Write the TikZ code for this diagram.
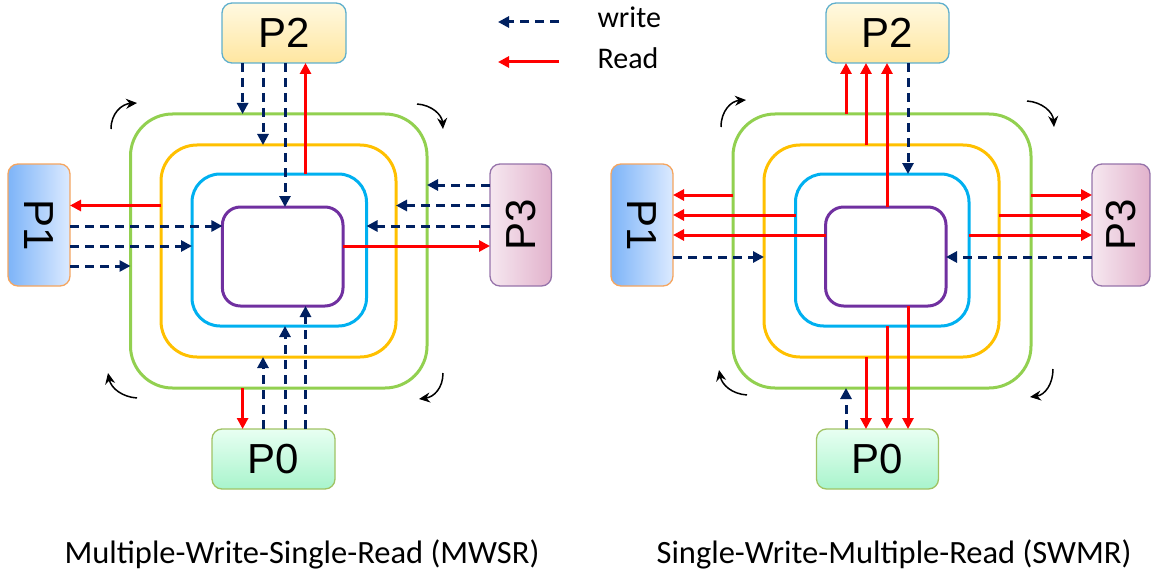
\documentclass[tikz,border=0pt]{standalone}
\usepackage{fontspec}
\setmainfont{Carlito}
\newfontfamily\arialf{Liberation Sans}
\usetikzlibrary{arrows.meta}
\definecolor{ringG}{HTML}{92D050}
\definecolor{ringY}{HTML}{FFC000}
\definecolor{ringB}{HTML}{00B0F0}
\definecolor{ringP}{HTML}{7030A0}
\definecolor{wnavy}{HTML}{002060}
\definecolor{rred}{HTML}{FF0000}
\definecolor{p2top}{RGB}{255,249,225}
\definecolor{p2bot}{RGB}{255,230,160}
\definecolor{p2bd}{RGB}{95,175,205}
\definecolor{p1l}{RGB}{125,180,248}
\definecolor{p1r}{RGB}{220,234,255}
\definecolor{p1bd}{RGB}{245,165,95}
\definecolor{p3l}{RGB}{246,232,240}
\definecolor{p3r}{RGB}{226,178,204}
\definecolor{p3bd}{RGB}{150,115,170}
\definecolor{p0top}{RGB}{232,255,242}
\definecolor{p0bot}{RGB}{168,244,204}
\definecolor{p0bd}{RGB}{160,195,100}
\tikzset{
  ring/.style={draw, line width=3pt, rectangle, inner sep=0pt, outer sep=0pt},
  wr/.style={wnavy, line width=3pt, dash pattern=on 9pt off 6pt, -{Triangle[length=11pt,width=11pt]}},
  rd/.style={rred, line width=3pt, -{Triangle[length=11pt,width=11pt]}},
  rot/.style={black, line width=1.5pt, -{Stealth[length=11pt,width=10pt]}},
  pbox/.style={draw, line width=1.3pt, rounded corners=10pt, rectangle, inner sep=0pt, outer sep=0pt, font=\arialf\fontsize{42}{42}\selectfont},
  hbox/.style={pbox, minimum width=124pt, minimum height=60pt},
  vbox/.style={pbox, minimum width=62pt, minimum height=122pt},
  lbl/.style={font=\fontsize{32.5}{32.5}\selectfont, anchor=base},
  lgd/.style={font=\fontsize{30}{30}\selectfont, anchor=base west},
}
\begin{document}
\begin{tikzpicture}[x=1pt,y=-1pt]
\useasboundingbox (0,0) rectangle (1151,575);

% ================= LEFT (MWSR) =================
\node[ring, ringG, rounded corners=42pt, minimum width=296.5pt, minimum height=274pt] (G1) at (278.75,251) {};
\node[ring, ringY, rounded corners=36pt, minimum width=235pt, minimum height=212pt] (Y1) at (278.5,251) {};
\node[ring, ringB, rounded corners=28pt, minimum width=174.5pt, minimum height=152pt] (B1) at (279.25,250) {};
\node[ring, ringP, rounded corners=18pt, minimum width=120.6pt, minimum height=99pt] (U1) at (282.7,256.5) {};

\node[hbox, draw=p2bd, top color=p2top, bottom color=p2bot] (TP2) at (284,33) {P2};
\node[vbox, draw=p1bd, left color=p1l, right color=p1r] (TP1) at (39,225) {\rotatebox{-90}{P1}};
\node[vbox, minimum width=61.5pt, draw=p3bd, left color=p3l, right color=p3r] (TP3) at (520.75,225) {\rotatebox{90}{P3}};
\node[hbox, minimum width=123pt, draw=p0bd, top color=p0top, bottom color=p0bot] (TP0) at (273.5,459) {P0};

\coordinate (la) at (242.6,0);
\coordinate (lb) at (263,0);
\coordinate (lc) at (285,0);
\coordinate (ld) at (305.5,0);
\coordinate (ly1) at (0,185);
\coordinate (ly2) at (0,205.5);
\coordinate (ly3) at (0,226);
\coordinate (ly4) at (0,246);
\coordinate (ly5) at (0,266);

% top
\draw[wr] (TP2.south -| la) -- (G1.north -| la);
\draw[wr] (TP2.south -| lb) -- (Y1.north -| lb);
\draw[wr] (TP2.south -| lc) -- (U1.north -| lc);
\draw[rd] (B1.north -| ld) -- (TP2.south -| ld);
% left
\draw[rd] (Y1.west |- ly2) -- (TP1.east |- ly2);
\draw[wr] (TP1.east |- ly3) -- (U1.west |- ly3);
\draw[wr] (TP1.east |- ly4) -- (B1.west |- ly4);
\draw[wr] (TP1.east |- ly5) -- (G1.west |- ly5);
% right
\draw[wr] (TP3.west |- ly1) -- (G1.east |- ly1);
\draw[wr] (TP3.west |- ly2) -- (Y1.east |- ly2);
\draw[wr] (TP3.west |- ly3) -- (B1.east |- ly3);
\draw[rd] (U1.east |- ly4) -- (TP3.west |- ly4);
% bottom
\draw[rd] (G1.south -| la) -- (TP0.north -| la);
\draw[wr] (TP0.north -| lb) -- (Y1.south -| lb);
\draw[wr] (TP0.north -| lc) -- (B1.south -| lc);
\draw[wr] (TP0.north -| ld) -- (U1.south -| ld);

% rotation arrows
\draw[rot] (111,129) .. controls (111,113) and (122,104) .. (137,103);
\draw[rot] (417,104) .. controls (432,105) and (442,115) .. (443,129);
\draw[rot] (443,373) .. controls (443,388) and (434,397) .. (419,399);
\draw[rot] (137,398) .. controls (122,397) and (111,388) .. (108,373);

\node[lbl] (cap1) at (302,563) {Multiple-Write-Single-Read (MWSR)};

% ================= RIGHT (SWMR) =================
\node[ring, ringG, rounded corners=42pt, minimum width=298pt, minimum height=274pt] (G2) at (882,251) {};
\node[ring, ringY, rounded corners=36pt, minimum width=235pt, minimum height=212pt] (Y2) at (881.5,251) {};
\node[ring, ringB, rounded corners=28pt, minimum width=173.5pt, minimum height=152pt] (B2) at (882.25,250) {};
\node[ring, ringP, rounded corners=18pt, minimum width=120.4pt, minimum height=99pt] (U2) at (885.8,256.5) {};

\node[hbox, minimum width=123pt, draw=p2bd, top color=p2top, bottom color=p2bot] (SP2) at (887.5,33) {P2};
\node[vbox, draw=p1bd, left color=p1l, right color=p1r] (SP1) at (642,225) {\rotatebox{-90}{P1}};
\node[vbox, minimum width=58pt, draw=p3bd, left color=p3l, right color=p3r] (SP3) at (1121,225) {\rotatebox{90}{P3}};
\node[hbox, minimum width=122pt, draw=p0bd, top color=p0top, bottom color=p0bot] (SP0) at (877.5,459) {P0};

\coordinate (ra) at (846,0);
\coordinate (rb) at (866,0);
\coordinate (rc) at (887,0);
\coordinate (rd) at (908,0);
\coordinate (ry1) at (0,195);
\coordinate (ry2) at (0,215);
\coordinate (ry3) at (0,235);
\coordinate (ry4) at (0,257);

% top
\draw[rd] (G2.north -| ra) -- (SP2.south -| ra);
\draw[rd] (Y2.north -| rb) -- (SP2.south -| rb);
\draw[rd] (U2.north -| rc) -- (SP2.south -| rc);
\draw[wr] (SP2.south -| rd) -- (B2.north -| rd);
% left
\draw[rd] (G2.west |- ry1) -- (SP1.east |- ry1);
\draw[rd] (B2.west |- ry2) -- (SP1.east |- ry2);
\draw[rd] (U2.west |- ry3) -- (SP1.east |- ry3);
\draw[wr] (SP1.east |- ry4) -- (Y2.west |- ry4);
% right
\draw[rd] (G2.east |- ry1) -- (SP3.west |- ry1);
\draw[rd] (Y2.east |- ry2) -- (SP3.west |- ry2);
\draw[rd] (B2.east |- ry3) -- (SP3.west |- ry3);
\draw[wr] (SP3.west |- ry4) -- (U2.east |- ry4);
% bottom
\draw[wr] (SP0.north -| ra) -- (G2.south -| ra);
\draw[rd] (Y2.south -| rb) -- (SP0.north -| rb);
\draw[rd] (B2.south -| rc) -- (SP0.north -| rc);
\draw[rd] (U2.south -| rd) -- (SP0.north -| rd);

% rotation arrows
\draw[rot] (721,127) .. controls (721,111) and (731,101) .. (746,100);
\draw[rot] (1027,101) .. controls (1042,102) and (1053,112) .. (1054,127);
\draw[rot] (1053,369) .. controls (1053,384) and (1045,395) .. (1030,397);
\draw[rot] (747,395) .. controls (732,394) and (722,385) .. (719,370);

\node[lbl] (cap2) at (894,563) {Single-Write-Multiple-Read (SWMR)};

% ================= LEGEND =================
\coordinate (lgw1) at (559,22);
\coordinate (lgw0) at (498,22);
\coordinate (lgr1) at (559,62);
\coordinate (lgr0) at (498,62);
\draw[wr] (lgw1) -- (lgw0);
\draw[rd] (lgr1) -- (lgr0);
\node[lgd] (lgwt) at (594,28) {write};
\node[lgd] (lgrt) at (594,69) {Read};
\end{tikzpicture}
\end{document}
